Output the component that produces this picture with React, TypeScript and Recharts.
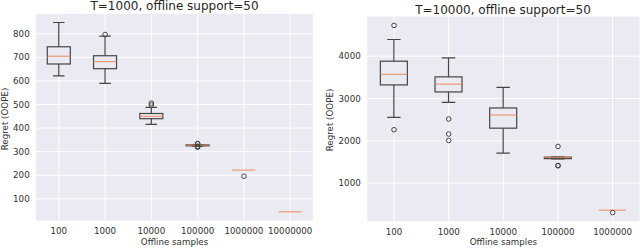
import { Bar, CartesianGrid, ComposedChart, Line, XAxis, YAxis } from "recharts";

// T=1000 panel
const samplesA = ["100", "1000", "10000", "100000", "1000000", "10000000"];
const lowA = [622, 590, 416, 324, 222, 45];
const q1A = [672, 652, 440, 325, 222, 45];
const medianA = [705, 682, 450, 328, 222, 45];
const q3A = [745, 707, 462, 329, 222, 45];
const highA = [848, 790, 488, 330, 222, 45];
const outliersA = [[], [797], [498, 506], [319, 321, 323, 333, 335], [196], []];
const ticksA = [100, 200, 300, 400, 500, 600, 700, 800];

// T=10000 panel
const samplesB = ["100", "1000", "10000", "100000", "1000000"];
const lowB = [2555, 2910, 1711, 1575, 363];
const q1B = [3322, 3156, 2300, 1580, 363];
const medianB = [3573, 3340, 2610, 1612, 363];
const q3B = [3882, 3512, 2777, 1615, 363];
const highB = [4395, 3960, 3265, 1620, 363];
const outliersB = [[4727, 2263], [2517, 2161, 2009], [], [1869, 1420, 1410], [306]];
const ticksB = [1000, 2000, 3000, 4000];

const edge = "#454545";
const orange = "#ee8a55";
const font = "'DejaVu Sans', sans-serif";

const buildRows = (samples, low, q1, median, q3, high, outliers) =>
    samples.map((name, i) => {
        const row: any = { name, low: low[i], q1: q1[i], median: median[i], q3: q3[i], high: high[i] };
        for (let k = 0; k < 5; k++) row["o" + k] = outliers[i][k] ?? null;
        return row;
    });

const WhiskerShape = (props: any) => {
    const { x, y, width, height } = props;
    if (!(Math.abs(height) > 0.5)) return <g />;
    const cx = x + width / 2;
    const cap = width / 4;
    return (
        <g stroke={edge} strokeWidth={1.2}>
            <line x1={cx} x2={cx} y1={y} y2={y + height} />
            <line x1={cx - cap} x2={cx + cap} y1={y} y2={y} />
            <line x1={cx - cap} x2={cx + cap} y1={y + height} y2={y + height} />
        </g>
    );
};

const BoxShape = (props: any) => {
    const { x, y, width, height } = props;
    if (!(Math.abs(height) > 0.3)) return <g />;
    return <rect x={x} y={y} width={width} height={height} fill="#EAEAF2" stroke={edge} strokeWidth={1.2} />;
};

const MedianShape = (props: any) => {
    const { x, y, width } = props;
    return <line x1={x} x2={x + width} y1={y} y2={y} stroke={orange} strokeWidth={1} />;
};

const OutlierDot = (props: any) => {
    const { cx, cy, value, index } = props;
    if (value == null || cy == null) return <g key={"e" + index} />;
    return <circle key={"c" + index} cx={cx} cy={cy} r={2.3} fill="none" stroke={edge} strokeWidth={1} />;
};

type PanelProps = {
    rows: any[];
    domain: number[];
    ticks: number[];
    width: number;
    height: number;
    margin: { top: number; right: number; bottom: number; left: number };
    yWidth: number;
    xHeight: number;
};

function BoxPanel(props: PanelProps) {
    const tick = { fontSize: 8.7, fill: "#303030" };
    return (
        <ComposedChart width={props.width} height={props.height} data={props.rows} margin={props.margin} barCategoryGap="25%">
            <CartesianGrid xAxisId="main" fill="#EAEAF2" stroke="#ffffff" strokeWidth={1} />
            <XAxis
                xAxisId="main"
                dataKey="name"
                height={props.xHeight}
                axisLine={false}
                tickLine={false}
                tickSize={0}
                tickMargin={7}
                tick={tick}
                interval={0}
                label={{ value: "Offline samples", position: "insideBottom", offset: 3.5, fontSize: 8.7, fill: "#303030" }}
            />
            <XAxis xAxisId="w" dataKey="name" orientation="top" height={0} hide />
            <XAxis xAxisId="m" dataKey="name" orientation="top" height={0} hide />
            <YAxis
                type="number"
                domain={props.domain}
                ticks={props.ticks}
                allowDataOverflow
                width={props.yWidth}
                axisLine={false}
                tickLine={false}
                tickSize={0}
                tickMargin={6}
                tick={tick}
            />
            <Bar xAxisId="w" dataKey={(d: any) => [d.low, d.high]} shape={WhiskerShape} isAnimationActive={false} />
            <Bar xAxisId="main" dataKey={(d: any) => [d.q1, d.q3]} shape={BoxShape} isAnimationActive={false} />
            <Bar xAxisId="m" dataKey={(d: any) => [d.median, d.median]} shape={MedianShape} isAnimationActive={false} />
            {[0, 1, 2, 3, 4].map((k) => (
                <Line
                    key={k}
                    xAxisId="main"
                    dataKey={"o" + k}
                    stroke="none"
                    dot={OutlierDot}
                    activeDot={false}
                    isAnimationActive={false}
                />
            ))}
        </ComposedChart>
    );
}

export default function App() {
    const rowsA = buildRows(samplesA, lowA, q1A, medianA, q3A, highA, outliersA);
    const rowsB = buildRows(samplesB, lowB, q1B, medianB, q3B, highB, outliersB);

    return (
        <div style={{ position: "absolute", left: 0, top: 0, width: 640, height: 248, background: "#fff", fontFamily: font, overflow: "hidden" }}>
            <div style={{ position: "absolute", left: 0, top: 0 }}>
                <BoxPanel
                    rows={rowsA}
                    domain={[6, 887]}
                    ticks={ticksA}
                    width={320}
                    height={248}
                    margin={{ top: 13.3, right: 6.7, bottom: 0, left: 0 }}
                    yWidth={35.7}
                    xHeight={27}
                />
            </div>
            <div style={{ position: "absolute", left: 320, top: 0 }}>
                <BoxPanel
                    rows={rowsB}
                    domain={[90, 4950]}
                    ticks={ticksB}
                    width={320}
                    height={248}
                    margin={{ top: 16, right: 0, bottom: 0, left: 0 }}
                    yWidth={46.7}
                    xHeight={26.3}
                />
            </div>
            <svg width={640} height={248} style={{ position: "absolute", left: 0, top: 0, pointerEvents: "none" }}>
                <text x={174.5} y={10} textAnchor="middle" fontSize={12} fill="#262626">T=1000, offline support=50</text>
                <text x={503} y={14} textAnchor="middle" fontSize={12} fill="#262626">T=10000, offline support=50</text>
                <text x={8} y={119} textAnchor="middle" fontSize={8.7} fill="#303030" transform="rotate(-90 8 119)">Regret (OOPE)</text>
                <text x={332.5} y={120} textAnchor="middle" fontSize={8.7} fill="#303030" transform="rotate(-90 332.5 120)">Regret (OOPE)</text>
            </svg>
        </div>
    );
}
